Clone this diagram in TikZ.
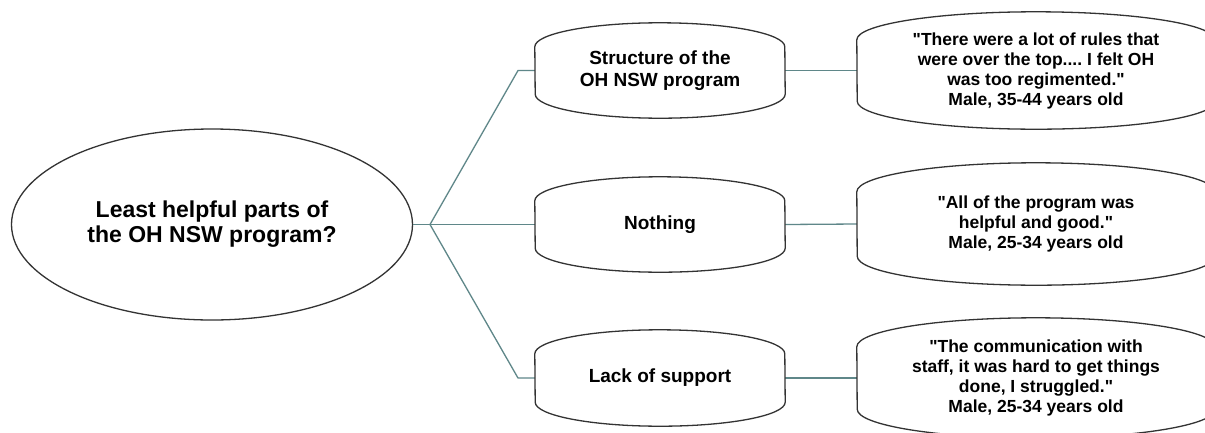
\documentclass[tikz,border=0pt]{standalone}
\usepackage{fontspec}
\setmainfont{Liberation Sans}[Ligatures=TeXOff]
\usetikzlibrary{shapes.geometric}
\definecolor{conn}{HTML}{5F8789}
\definecolor{edge}{HTML}{333333}
\tikzset{
  outline/.style={draw=edge, line width=1.3pt, fill=white},
  capnode/.style={inner sep=0pt, align=center, font=\bfseries\fontsize{19}{22}\selectfont},
  quotenode/.style={inner sep=0pt, align=center, font=\bfseries\fontsize{17.5}{20}\selectfont},
  rootnode/.style={ellipse, draw=edge, line width=1.3pt, inner sep=0pt, align=center,
    font=\bfseries\fontsize{23}{25}\selectfont},
  link/.style={draw=conn, line width=1.3pt}
}
\newcommand\capsuleoutline[3]{%
  \draw[outline] ([yshift=-#3pt]#1.north west)
    arc[start angle=180, end angle=0, x radius=#2pt, y radius=#3pt]
    -- ([yshift=#3pt]#1.south east)
    arc[start angle=0, end angle=-180, x radius=#2pt, y radius=#3pt] -- cycle;}
\begin{document}
\frenchspacing
\begin{tikzpicture}[x=1pt, y=-1pt]
\clip (0,0) rectangle (1205,432);
\fill[white] (0,0) rectangle (1205,432);

% node frames (invisible) for anchors
\node[capnode, minimum width=250pt, minimum height=95pt] (n1) at (660,70.5) {};
\node[capnode, minimum width=250pt, minimum height=95pt] (n2) at (660,224.5) {};
\node[capnode, minimum width=250pt, minimum height=96pt] (n3) at (660,378) {};
\node[quotenode, minimum width=358pt, minimum height=117pt] (q1) at (1036,70.5) {};
\node[quotenode, minimum width=358pt, minimum height=122pt] (q2) at (1036,224) {};
\node[quotenode, minimum width=358pt, minimum height=120pt] (q3) at (1036,378) {};
\node[rootnode, minimum width=401pt, minimum height=191pt] (root) at (212,224.5) {};

% connectors
\coordinate (J) at (430,224.5);
\coordinate (b1) at (518,70.5);
\coordinate (b3) at (518,378);
\draw[link] (root.east) -- (J) -- (n2.west);
\draw[link] (J) -- (b1) -- (n1.west);
\draw[link] (J) -- (b3) -- (n3.west);
\draw[link] (n1.east) -- (q1.west);
\draw[link] (n2.east) -- (q2.west);
\draw[link] (n3.east) -- (q3.west);

% outlines
\capsuleoutline{n1}{125}{24}
\capsuleoutline{n2}{125}{24}
\capsuleoutline{n3}{125}{24}
\capsuleoutline{q1}{179}{28}
\capsuleoutline{q2}{179}{29}
\capsuleoutline{q3}{179}{29}

% texts
\node[rootnode, draw=none, minimum width=0pt, minimum height=0pt] (roott) at (root.center) {Least helpful parts of\\the OH NSW program?};
\node[capnode] (n1t) at (n1.center) {Structure of the\\OH NSW program};
\node[capnode] (n2t) at (n2.center) {Nothing};
\node[capnode] (n3t) at (n3.center) {Lack of support};
\node[quotenode] (q1t) at (q1.center) {"There were a lot of rules that\\were over the top.... I felt OH\\was too regimented."\\Male, 35-44 years old};
\node[quotenode] (q2t) at (q2.center) {"All of the program was\\helpful and good."\\Male, 25-34 years old};
\node[quotenode] (q3t) at (q3.center) {"The communication with\\staff, it was hard to get things\\done, I struggled."\\Male, 25-34 years old};
\end{tikzpicture}
\end{document}
